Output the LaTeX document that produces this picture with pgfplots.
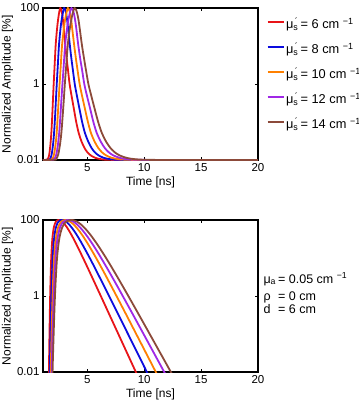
\documentclass[border=0pt]{standalone}
\usepackage{fontspec}
\setmainfont{Liberation Sans}
\usepackage{pgfplots}
\pgfplotsset{compat=1.18}

\definecolor{cRed}{RGB}{232,20,24}
\definecolor{cBlue}{RGB}{12,12,222}
\definecolor{cOrange}{RGB}{255,128,0}
\definecolor{cPurple}{RGB}{160,40,230}
\definecolor{cBrown}{RGB}{140,74,58}

\newcommand{\mus}{μ\rlap{\textsubscript{s}}\textsuperscript{\,´}\,}

\tikzset{curve/.style={line width=1.8pt, smooth, tension=0.5}}

\pgfplotsset{
  every axis/.append style={
    width=215pt, height=152pt, scale only axis,
    xmin=1.1, xmax=20, ymin=0.01, ymax=100,
    xtick={5,10,15,20}, xticklabels={5,10,15,20},
    ytick={0.01,1,100}, yticklabels={0.01,1,100},
    tick align=inside, major tick length=3pt,
    tick style={black, line width=0.7pt},
    axis line style={black, line width=1.1pt},
    tick label style={font=\fontsize{11.5}{13}\selectfont},
    label style={font=\fontsize{12}{14}\selectfont},
    xlabel={Time [ns]}, ylabel={Normalized Amplitude [\%]},
    clip mode=individual,
  },
  every axis x label/.style={at={(axis description cs:0.5,-0.088)}, anchor=north},
  every axis y label/.style={at={(axis description cs:-0.165,0.5)}, rotate=90, anchor=center},
}

\begin{document}
\begin{tikzpicture}
\path[use as bounding box] (0,0) rectangle (359pt,400pt);

% upper panel: five reduced scattering coefficients
\begin{semilogyaxis}[at={(43pt,240pt)}, anchor=south west,
  legend style={draw=none, fill=none, at={(axis description cs:1.040,0.926)}, anchor=north west,
    inner sep=0pt, row sep=13pt, column sep=1pt, font=\fontsize{12.8}{15}\selectfont,
    nodes={inner sep=0pt, text height=9pt, text depth=3pt}},
  legend cell align=left,
  legend image code/.code={\draw[#1, line width=1.8pt] (0pt,3.5pt) -- (16.5pt,3.5pt);},
]
\addplot[curve, cRed] coordinates {(1.1,0.01) (1.45,0.0102) (1.55,0.011) (1.65,0.014) (1.75,0.025) (1.83,0.05) (1.90,0.12) (1.97,0.35) (2.04,1.0) (2.12,3.0) (2.21,10) (2.30,22) (2.40,43) (2.50,70) (2.57,90) (2.62,100) (2.70,91) (2.78,71) (2.85,49) (2.92,30) (2.98,18.8) (3.05,11.2) (3.12,6.8) (3.20,4.1) (3.30,2.3) (3.44,1.0) (3.60,0.51) (3.80,0.235) (4.02,0.10) (4.25,0.050) (4.50,0.030) (4.75,0.0207) (5.00,0.016) (5.30,0.0132) (5.70,0.0114) (6.20,0.0105) (7.00,0.0101) (10,0.01) (20,0.01)};
\addlegendentry{\mus= 6 cm \textsuperscript{−1}}
\addplot[curve, cBlue] coordinates {(1.1,0.01) (1.64,0.0102) (1.75,0.011) (1.86,0.014) (1.98,0.025) (2.07,0.05) (2.15,0.12) (2.23,0.35) (2.31,1.0) (2.40,3.0) (2.50,10) (2.60,22) (2.71,43) (2.83,70) (2.90,90) (2.96,100) (3.05,91) (3.14,71) (3.22,49) (3.30,30) (3.37,18.8) (3.45,11.2) (3.53,6.8) (3.62,4.1) (3.73,2.3) (3.89,1.0) (4.07,0.51) (4.29,0.235) (4.54,0.10) (4.80,0.050) (5.09,0.030) (5.37,0.0207) (5.65,0.016) (5.99,0.0132) (6.44,0.0114) (7.01,0.0105) (7.91,0.0101) (11,0.01) (20,0.01)};
\addlegendentry{\mus= 8 cm \textsuperscript{−1}}
\addplot[curve, cOrange] coordinates {(1.1,0.01) (1.82,0.0102) (1.95,0.011) (2.07,0.014) (2.20,0.025) (2.30,0.05) (2.38,0.12) (2.47,0.35) (2.56,1.0) (2.66,3.0) (2.77,10) (2.89,22) (3.01,43) (3.14,70) (3.23,90) (3.29,100) (3.39,91) (3.49,71) (3.58,49) (3.66,30) (3.74,18.8) (3.83,11.2) (3.92,6.8) (4.02,4.1) (4.14,2.3) (4.32,1.0) (4.52,0.51) (4.77,0.235) (5.05,0.10) (5.33,0.050) (5.65,0.030) (5.96,0.0207) (6.28,0.016) (6.65,0.0132) (7.15,0.0114) (7.78,0.0105) (8.79,0.0101) (12,0.01) (20,0.01)};
\addlegendentry{\mus= 10 cm \textsuperscript{−1}}
\addplot[curve, cPurple] coordinates {(1.1,0.01) (1.99,0.0102) (2.13,0.011) (2.27,0.014) (2.41,0.025) (2.52,0.05) (2.61,0.12) (2.71,0.35) (2.81,1.0) (2.92,3.0) (3.04,10) (3.16,22) (3.30,43) (3.44,70) (3.53,90) (3.60,100) (3.71,91) (3.82,71) (3.92,49) (4.02,30) (4.10,18.8) (4.19,11.2) (4.29,6.8) (4.40,4.1) (4.54,2.3) (4.73,1.0) (4.95,0.51) (5.23,0.235) (5.53,0.10) (5.84,0.050) (6.19,0.030) (6.53,0.0207) (6.88,0.016) (7.29,0.0132) (7.84,0.0114) (8.53,0.0105) (9.63,0.0101) (13,0.01) (20,0.01)};
\addlegendentry{\mus= 12 cm \textsuperscript{−1}}
\addplot[curve, cBrown] coordinates {(1.1,0.01) (2.15,0.0102) (2.29,0.011) (2.44,0.014) (2.59,0.025) (2.71,0.05) (2.81,0.12) (2.92,0.35) (3.02,1.0) (3.14,3.0) (3.27,10) (3.40,22) (3.55,43) (3.70,70) (3.80,90) (3.88,100) (4.00,91) (4.11,71) (4.22,49) (4.32,30) (4.41,18.8) (4.51,11.2) (4.62,6.8) (4.74,4.1) (4.88,2.3) (5.09,1.0) (5.33,0.51) (5.62,0.235) (5.95,0.10) (6.29,0.050) (6.66,0.030) (7.03,0.0207) (7.40,0.016) (7.84,0.0132) (8.44,0.0114) (9.18,0.0105) (10.36,0.0101) (14,0.01) (20,0.01)};
\addlegendentry{\mus= 14 cm \textsuperscript{−1}}
\end{semilogyaxis}

% lower panel: same coefficients, transmission geometry
\begin{semilogyaxis}[at={(43pt,28pt)}, anchor=south west]
\addplot[curve, cRed] coordinates {(1.595,0.002) (1.62,0.01) (1.68,0.158) (1.74,1.41) (1.82,9.55) (1.92,31.6) (2.05,63.1) (2.20,87.1) (2.35,97.7) (2.47,100) (2.60,98.2) (2.75,92.5) (2.90,83.9) (3.10,71.0) (3.35,54.7) (3.65,38.2) (4.00,24.1) (4.50,11.9) (5.00,5.77) (6.00,1.31) (7.00,0.294) (8.00,0.0659) (9.00,0.01476) (9.60,0.00601)};
\addplot[curve, cBlue] coordinates {(1.67,0.002) (1.70,0.01) (1.774,0.158) (1.848,1.41) (1.947,9.55) (2.071,31.6) (2.231,63.1) (2.416,87.1) (2.602,97.7) (2.75,100) (2.90,98.2) (3.10,91.6) (3.35,78.9) (3.65,61.8) (4.00,43.7) (4.40,27.7) (4.90,14.9) (5.50,6.81) (6.50,1.753) (7.50,0.4416) (8.50,0.1105) (9.50,0.02757) (10.60,0.00598)};
\addplot[curve, cOrange] coordinates {(1.743,0.002) (1.78,0.01) (1.870,0.158) (1.959,1.41) (2.078,9.55) (2.228,31.6) (2.423,63.1) (2.646,87.1) (2.871,97.7) (3.05,100) (3.20,98.6) (3.45,91.6) (3.75,78.2) (4.10,60.5) (4.50,42.1) (5.00,24.8) (5.60,12.3) (6.30,5.16) (7.20,1.61) (8.20,0.4305) (9.20,0.1135) (10.20,0.0298) (11.50,0.00523)};
\addplot[curve, cPurple] coordinates {(1.818,0.002) (1.86,0.01) (1.962,0.158) (2.063,1.41) (2.198,9.55) (2.368,31.6) (2.589,63.1) (2.842,87.1) (3.097,97.7) (3.30,100) (3.45,98.9) (3.70,92.7) (4.00,80.7) (4.40,61.9) (4.85,42.3) (5.40,24.6) (6.00,12.76) (6.80,5.00) (7.70,1.666) (8.70,0.478) (9.70,0.1354) (10.80,0.0336) (12.20,0.00569)};
\addplot[curve, cBrown] coordinates {(1.892,0.002) (1.94,0.01) (2.057,0.158) (2.174,1.41) (2.330,9.55) (2.526,31.6) (2.780,63.1) (3.072,87.1) (3.366,97.7) (3.60,100) (3.75,99.1) (4.05,91.8) (4.40,78.0) (4.80,60.0) (5.30,39.7) (5.90,22.2) (6.60,10.5) (7.40,4.20) (8.30,1.439) (9.30,0.4264) (10.30,0.1247) (11.40,0.0320) (12.80,0.00566)};
\node[anchor=north west, inner sep=0pt, font=\fontsize{12.5}{14.5}\selectfont] at (axis description cs:1.0247,0.655) {%
  \begin{tabular}{@{}l@{\,}l@{}}
    μ\textsubscript{a} & = 0.05 cm \textsuperscript{−1}\\[3pt]
    ρ & = 0 cm\\[-2pt]
    d & = 6 cm
  \end{tabular}};
\end{semilogyaxis}
\end{tikzpicture}
\end{document}
